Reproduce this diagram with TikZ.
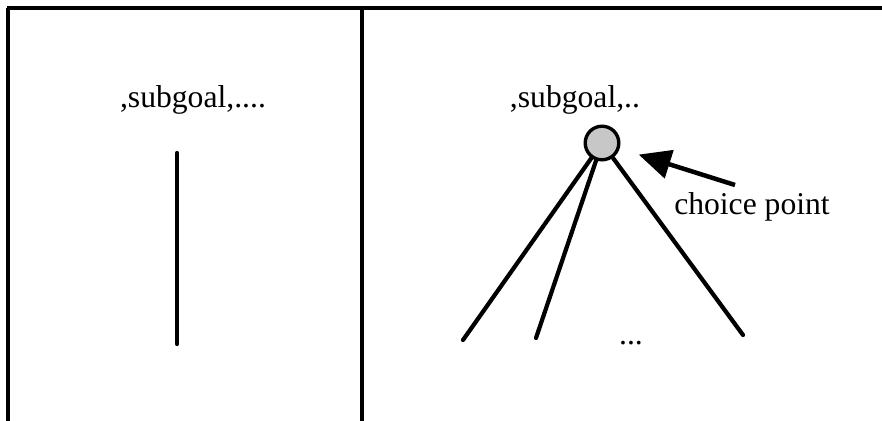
\documentclass[tikz,border=0pt]{standalone}
\usepackage{fontspec}
\setmainfont{Liberation Serif}
\usepackage{xcolor}
\usetikzlibrary{arrows.meta}

\begin{document}
\begin{tikzpicture}[x=0.025cm, y=-0.025cm,
    txt/.style={font=\fontsize{22.5}{26}\selectfont, inner sep=0pt},
    rule/.style={line width=2.6pt},
    branch/.style={line width=3pt, line cap=round},
    choice/.style={circle, draw, line width=2.4pt, fill=black!22,
                   minimum size=0.84cm, inner sep=0pt}]
  % one pixel of the original is one unit; y grows downwards
  \useasboundingbox (0,0) rectangle (882,421);

  % frame: top rule, left edge and the divider (open at right and bottom)
  \coordinate (tl) at (7,8);   \coordinate (tr) at (882,8);
  \coordinate (lt) at (8,8);   \coordinate (bl) at (8,421);
  \coordinate (mt) at (362,8); \coordinate (mb) at (362,421);
  \draw[rule] (tl) -- (tr);
  \draw[rule] (lt) -- (bl);
  \draw[rule] (mt) -- (mb);

  % left panel: a single, deterministic subgoal
  \node[txt] (goalL) at (193,100) {,subgoal,....};
  \coordinate (stemT) at (177,153);
  \coordinate (stemB) at (177,344);
  \draw[branch] (stemT) -- (stemB);

  % right panel: the subgoal opens a choice point
  \node[txt] (goalR) at (575,100) {,subgoal,..};
  \node[choice] (cp) at (602,143) {};
  \coordinate (leafA) at (463,340);
  \coordinate (leafB) at (536,338);
  \coordinate (leafC) at (743,335);
  \draw[branch] (cp) -- (leafA);
  \draw[branch] (cp) -- (leafB);
  \draw[branch] (cp) -- (leafC);
  \node[txt] (more) at (631,343) {...};

  % the pointer and its caption
  \node[txt] (cpname) at (752,207) {choice point};
  \coordinate (tail) at (735,185);
  \draw[line width=3.2pt, -{Triangle[length=0.8cm, width=0.72cm]},
        shorten >=0.5cm] (tail) -- (cp);
\end{tikzpicture}
\end{document}
